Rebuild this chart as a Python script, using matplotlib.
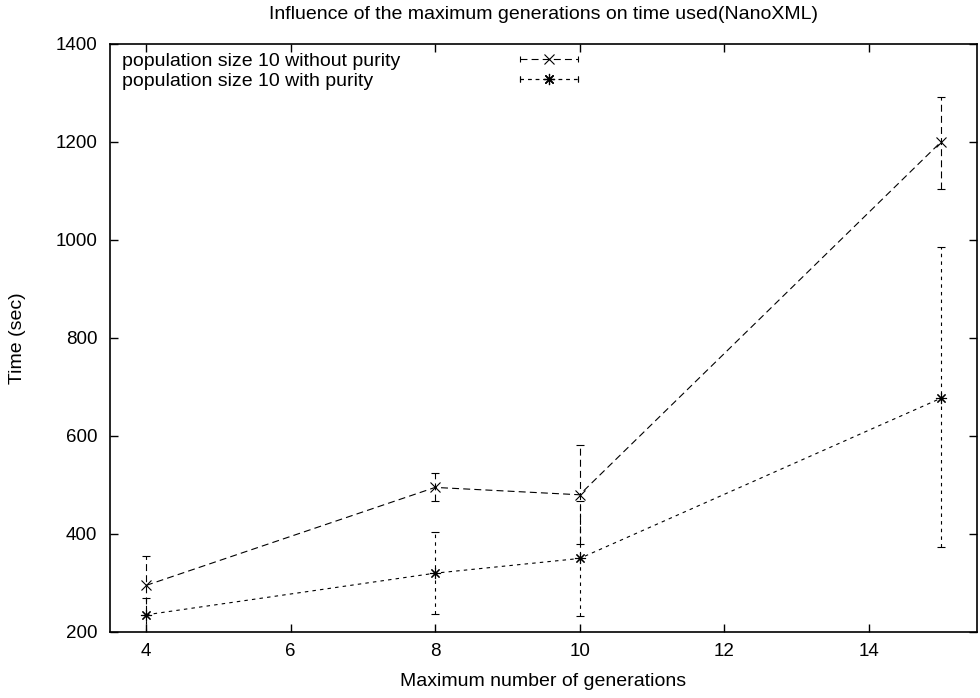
import numpy as np
import matplotlib
matplotlib.use('Agg')
import matplotlib.pyplot as plt
from matplotlib.lines import Line2D
from matplotlib.legend_handler import HandlerLine2D, HandlerTuple

plt.rcParams['font.family'] = ['Liberation Sans', 'DejaVu Sans']
plt.rcParams['font.size'] = 14
plt.rcParams['lines.scale_dashes'] = False

# Datos
generations = [4, 8, 10, 15]
labels = ['population size 10 without purity', 'population size 10 with purity']

time_without = [295, 495, 480, 1200]
low_without = [235, 467, 380, 1105]
high_without = [355, 525, 582, 1292]

time_with = [235, 320, 350, 677]
low_with = [170, 237, 233, 373]
high_with = [270, 405, 467, 985]

fig = plt.figure(figsize=(9.8, 6.98), dpi=100)
ax = fig.add_axes([0.1122, 0.0946, 0.8848, 0.8424])

series = [
    (time_without, low_without, high_without, (0, (5, 3)), 'x', 7),
    (time_with, low_with, high_with, (0, (2.5, 3)), (8, 2, 0), 8),
]

handles = []
for (y, lo, hi, dash, marker, ms), label in zip(series, labels):
    y = np.array(y)
    err = [y - np.array(lo), np.array(hi) - y]
    line, caps, bars = ax.errorbar(generations, y, yerr=err, color='k', lw=0.8,
                                   linestyle=dash, marker=marker, ms=ms, mew=0.8,
                                   capsize=3, capthick=0.8, elinewidth=0.8)
    for b in bars:
        b.set_linestyle(dash)
    cap_line = Line2D([], [], color='k', lw=0.8, linestyle=dash, marker='|', ms=5, mew=0.8)
    mark = Line2D([], [], color='k', linestyle='none', marker=marker, ms=ms, mew=0.8)
    handles.append((cap_line, mark))

# Leyenda estilo gnuplot: texto a la izquierda, muestra a la derecha
ypos = [0.971, 0.937]
for (cap_line, mark), label, yy in zip(handles, labels, ypos):
    ax.text(0.014, yy, label, transform=ax.transAxes, ha='left', va='center', fontsize=14)
    leg = ax.legend([(cap_line, mark)], [''], loc='center', bbox_to_anchor=(0.506, yy),
                    frameon=False, handlelength=3.0, handletextpad=0, borderpad=0,
                    handler_map={cap_line: HandlerLine2D(numpoints=2, marker_pad=0),
                                 mark: HandlerLine2D(numpoints=1),
                                 tuple: HandlerTuple(ndivide=1)})
    ax.add_artist(leg)

ax.set_xlim(3.5, 15.5)
ax.set_ylim(200, 1400)
ax.set_xticks([4, 6, 8, 10, 12, 14])
ax.set_yticks(range(200, 1401, 200))
ax.tick_params(direction='in', length=6, width=1, top=True, right=True, labelsize=13.5)
ax.tick_params(axis='x', pad=8)
ax.tick_params(axis='y', pad=9)
for s in ax.spines.values():
    s.set_linewidth(1.2)

ax.set_title('Influence of the maximum generations on time used(NanoXML)', pad=18, fontsize=14)
ax.set_xlabel('Maximum number of generations', labelpad=9)
ax.set_ylabel('Time (sec)', labelpad=21)

fig.savefig('out.png', dpi=100)
